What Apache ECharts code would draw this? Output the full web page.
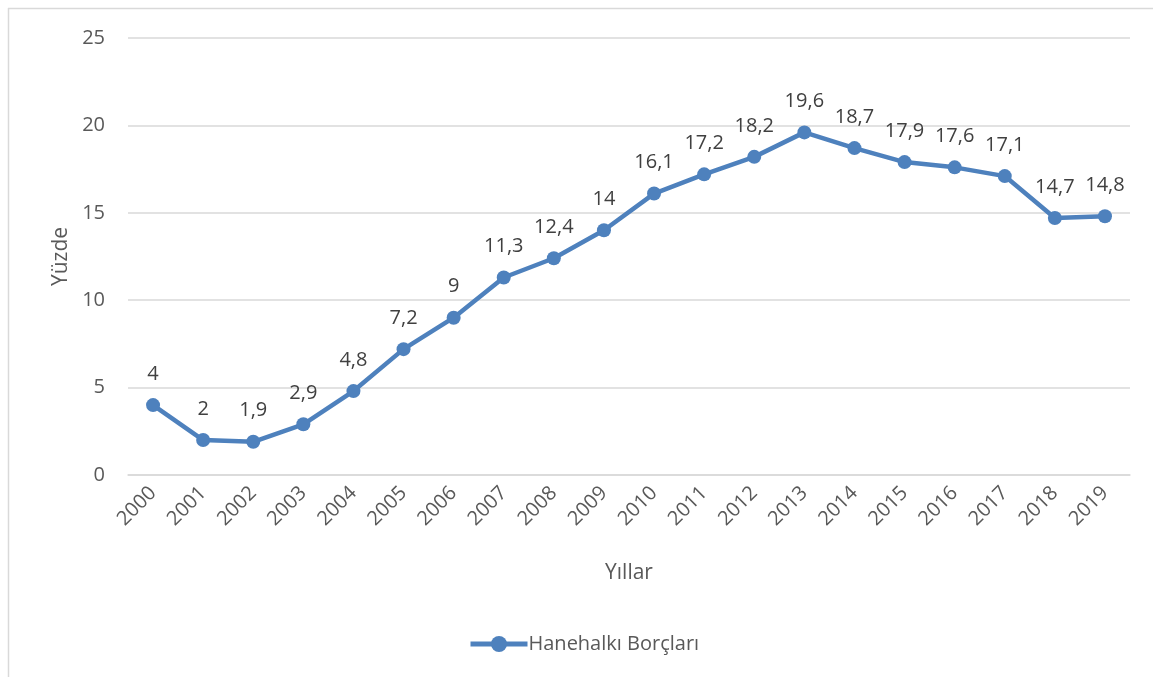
<!DOCTYPE html>
<html><head><meta charset="utf-8">
<script src="https://cdn.jsdelivr.net/npm/echarts@6/dist/echarts.min.js"></script>
<style>html,body{margin:0;padding:0;background:#fff}#c{width:1153px;height:677px}</style>
</head><body><div id="c"></div>
<script>
var years = ['2000','2001','2002','2003','2004','2005','2006','2007','2008','2009','2010','2011','2012','2013','2014','2015','2016','2017','2018','2019'];
var values = [4,2,1.9,2.9,4.8,7.2,9,11.3,12.4,14,16.1,17.2,18.2,19.6,18.7,17.9,17.6,17.1,14.7,14.8];
var seriesName = 'Hanehalkı Borçları';
var yTicks = {min:0, max:25, interval:5};
var font = '"Open Sans", Calibri, "Liberation Sans", sans-serif';
var chart = echarts.init(document.getElementById('c'), null, {renderer:'canvas'});
chart.setOption({
  animation:false,
  textStyle:{fontFamily:font},
  graphic:[
    {type:'line', shape:{x1:8,y1:8.5,x2:1153,y2:8.5}, style:{stroke:'#d9d9d9', lineWidth:1.5}},
    {type:'line', shape:{x1:8.5,y1:8,x2:8.5,y2:677}, style:{stroke:'#d9d9d9', lineWidth:1.5}}
  ],
  grid:{left:128, right:23, top:38, bottom:202, containLabel:false},
  legend:{bottom:18, left:463, itemWidth:57, itemHeight:20, itemGap:4,
    lineStyle:{width:5, color:'#4e81bd'},
    itemStyle:{color:'#4e81bd'},
    textStyle:{fontSize:20, color:'#595959', fontFamily:font, padding:[0,0,0,-4]},
    data:[{name:seriesName}]},
  xAxis:{type:'category', data:years, boundaryGap:true,
    name:'Yıllar', nameLocation:'middle', nameGap:88,
    nameTextStyle:{fontSize:21, color:'#595959', fontFamily:font},
    axisLine:{show:true, lineStyle:{color:'#d9d9d9', width:1.5}},
    axisTick:{show:false},
    axisLabel:{rotate:45, fontSize:20, color:'#595959', margin:15, fontFamily:font}},
  yAxis:{type:'value', min:yTicks.min, max:yTicks.max, interval:yTicks.interval,
    name:'Yüzde', nameLocation:'middle', nameGap:45, nameRotate:90,
    nameTextStyle:{fontSize:21, color:'#595959', fontFamily:font},
    axisLine:{show:false}, axisTick:{show:false},
    axisLabel:{fontSize:20, color:'#595959', margin:23, fontFamily:font},
    splitLine:{lineStyle:{color:'#d9d9d9', width:1.5}}},
  series:[{name:seriesName, type:'line', data:values,
    symbol:'circle', symbolSize:14,
    lineStyle:{color:'#4e81bd', width:4.5},
    itemStyle:{color:'#4e81bd'},
    label:{show:true, position:'top', distance:14, fontSize:20, color:'#404040', fontFamily:font,
      formatter:function(p){return String(p.value).replace('.',',');}}
  }]
});
</script></body></html>
